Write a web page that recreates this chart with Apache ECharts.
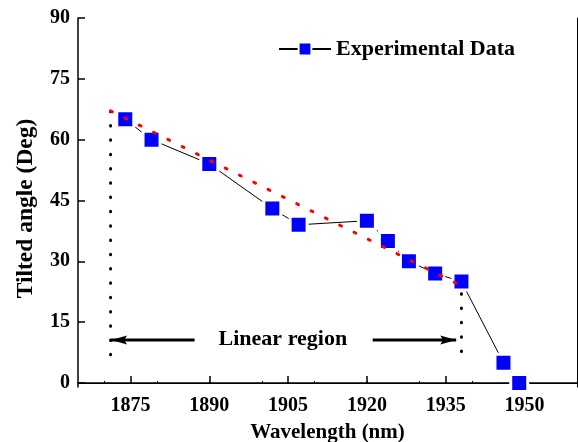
<!DOCTYPE html>
<html>
<head>
<meta charset="utf-8">
<script src="https://cdn.jsdelivr.net/npm/echarts@6/dist/echarts.min.js"></script>
<style>
html,body{margin:0;padding:0;background:#fff;}
#chart{width:578px;height:442px;}
</style>
</head>
<body>
<div id="chart"></div>
<script>
// ---- data ----
const wavelength = [1874, 1879, 1890, 1902, 1907, 1920, 1924, 1928, 1933, 1938, 1946, 1949];
const angle      = [65, 60, 54, 43, 39, 40, 35, 30, 27, 25, 5, 0];
const fitX = [1871.2, 1937];
const fitY = [67.1, 24.6];
const leftBoundX = [1871.2, 1871.2];
const leftBoundY = [67, 6];
const rightBoundX = [1938, 1938];
const rightBoundY = [22, 7.5];
const leftArrowX = [1871.3, 1887.2];
const rightArrowX = [1921.1, 1937.0];
const arrowY = 10.6;
const regionLabel = 'Linear region';
const regionLabelPos = [1904, 10.8];
const xTicks = [1875, 1890, 1905, 1920, 1935, 1950];
const yTicks = [0, 15, 30, 45, 60, 75, 90];
const topTicks = [1870, 1880, 1890, 1900, 1910, 1920, 1930, 1940, 1950];
const seriesName = 'Experimental Data';
const xName = 'Wavelength (nm)';
const yName = 'Tilted angle (Deg)';

const zip = (xs, ys) => xs.map((x, i) => [x, ys[i]]);
const FONT = '"Liberation Serif", "Times New Roman", serif';

const chart = echarts.init(document.getElementById('chart'), null, {renderer: 'canvas'});
chart.setOption({
  animation: false,
  backgroundColor: '#fff',
  grid: {left: 78, right: 1, top: 18, bottom: 55, containLabel: false, outerBoundsMode: 'none'},
  legend: {
    data: [seriesName],
    left: 273, top: 33,
    itemWidth: 52, itemHeight: 16,
    itemGap: 5,
    textStyle: {fontFamily: FONT, fontWeight: 'bold', fontSize: 22, color: '#000'}
  },
  xAxis: [{
    type: 'value', min: 1865, max: 1960,
    name: xName, nameLocation: 'middle', nameGap: 35,
    nameTextStyle: {fontFamily: FONT, fontWeight: 'bold', fontSize: 21, color: '#000'},
    axisLine: {show: true, lineStyle: {color: '#000', width: 1.5}},
    axisTick: {show: true, inside: true, length: 7, lineStyle: {color: '#000', width: 1.5}, customValues: xTicks},
    axisLabel: {fontFamily: FONT, fontWeight: 'bold', fontSize: 20, color: '#000', margin: 9,
      customValues: xTicks, formatter: v => String(v)},
    splitLine: {show: false}
  }, {
    type: 'value', min: 1865, max: 1960, position: 'top',
    axisLine: {show: true, lineStyle: {color: '#000', width: 1}},
    axisTick: {show: true, inside: false, length: 2, lineStyle: {color: '#000', width: 1}, customValues: topTicks},
    axisLabel: {show: false},
    splitLine: {show: false}
  }],
  yAxis: [{
    type: 'value', min: -1, max: 90,
    name: yName, nameLocation: 'middle', nameGap: 40,
    nameTextStyle: {fontFamily: FONT, fontWeight: 'bold', fontSize: 23.5, color: '#000', padding: [0, 12, 0, 0]},
    axisLine: {show: true, lineStyle: {color: '#000', width: 1.5}},
    axisTick: {show: true, inside: true, length: 7, lineStyle: {color: '#000', width: 1.5}, customValues: yTicks},
    axisLabel: {fontFamily: FONT, fontWeight: 'bold', fontSize: 20, color: '#000', margin: 8, customValues: yTicks},
    splitLine: {show: false}
  }, {
    type: 'value', min: -1, max: 90, position: 'right',
    axisLine: {show: true, lineStyle: {color: '#000', width: 1}},
    axisTick: {show: false}, axisLabel: {show: false}, splitLine: {show: false}
  }],
  series: [
    {
      name: seriesName, type: 'line', data: zip(wavelength, angle),
      symbol: 'square', symbolSize: 17,
      itemStyle: {color: '#0000ff', borderColor: '#ffffff', borderWidth: 3},
      lineStyle: {color: '#000', width: 1}, z: 2
    },
    {
      name: 'fit', type: 'line', data: zip(fitX, fitY), symbol: 'none',
      lineStyle: {color: '#ff0000', width: 3, type: [2, 14], cap: 'round'}, z: 4
    },
    {
      name: 'leftBound', type: 'line', data: zip(leftBoundX, leftBoundY), symbol: 'none',
      lineStyle: {color: '#000', width: 3, type: [0.5, 13.8], cap: 'round'}, z: 3
    },
    {
      name: 'rightBound', type: 'line', data: zip(rightBoundX, rightBoundY), symbol: 'none',
      lineStyle: {color: '#000', width: 3, type: [0.5, 13.8], cap: 'round'}, z: 3
    },
    {
      name: 'leftArrow', type: 'line', data: zip(leftArrowX, [arrowY, arrowY]), symbol: 'none',
      lineStyle: {color: '#000', width: 3}, z: 3
    },
    {
      name: 'rightArrow', type: 'line', data: zip(rightArrowX, [arrowY, arrowY]), symbol: 'none',
      lineStyle: {color: '#000', width: 3}, z: 3
    },
    {
      name: 'leftHead', type: 'scatter', data: [[leftArrowX[0], arrowY]],
      symbol: 'path://M0,4 L16,0 L13,4 L16,8 Z', symbolSize: [16, 9], symbolOffset: ['50%', 0],
      itemStyle: {color: '#000', opacity: 1}, z: 3, silent: true
    },
    {
      name: 'rightHead', type: 'scatter', data: [[rightArrowX[1], arrowY]],
      symbol: 'path://M16,4 L0,0 L3,4 L0,8 Z', symbolSize: [16, 9], symbolOffset: ['-50%', 0],
      itemStyle: {color: '#000', opacity: 1}, z: 3, silent: true
    },
    {
      name: 'regionText', type: 'scatter', data: [regionLabelPos], symbolSize: 0,
      itemStyle: {color: '#000', opacity: 1},
      label: {show: true, position: 'inside', formatter: regionLabel, opacity: 1,
        fontFamily: FONT, fontWeight: 'bold', fontSize: 22, color: '#000', textBorderWidth: 0},
      z: 5, silent: true
    }
  ]
});
</script>
</body>
</html>
